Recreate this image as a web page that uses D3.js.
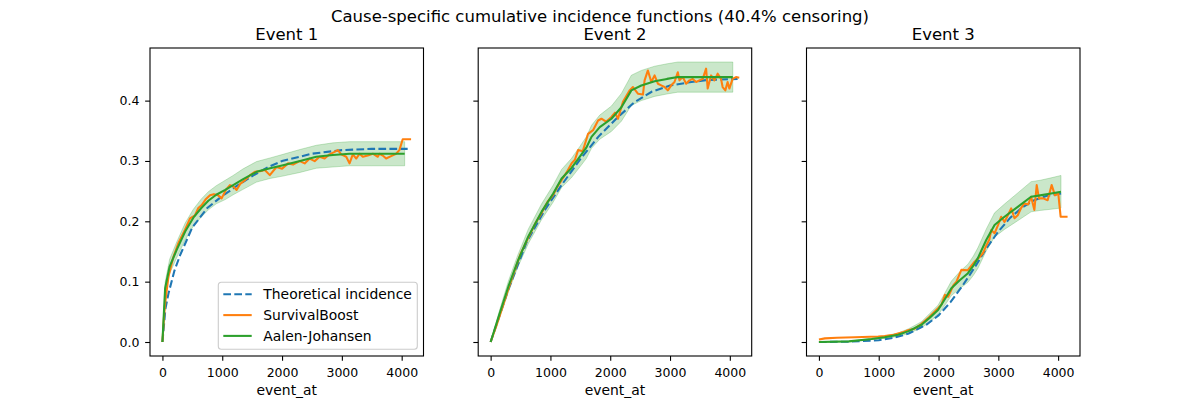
<!DOCTYPE html>
<html>
<head>
<meta charset="utf-8">
<script src="https://cdn.jsdelivr.net/npm/d3@7"></script>
<style>
  body { margin: 0; background: #fff; }
  svg text { font-family: "DejaVu Sans", sans-serif; fill: #000; }
  .tick text { font-size: 12.5px; }
  .tick line { stroke: #000; stroke-width: 1.1; }
  .frame { fill: none; stroke: #000; stroke-width: 1.1; }
  .panel-title { font-size: 16.5px; }
  .axis-label { font-size: 13.9px; }
  .legend-label { font-size: 13.9px; }
</style>
</head>
<body>
<div id="chart"></div>
<script>
// ---- Event 1 ----
const theoT1 = [0, 50, 100, 200, 300, 500, 750, 1000, 1250, 1500, 1750, 2000, 2500, 3000, 3500, 4100];
const theoV1 = [0, 0.055, 0.08, 0.118, 0.145, 0.19, 0.222, 0.242, 0.259, 0.275, 0.289, 0.300, 0.312, 0.318, 0.32, 0.32];

const ajT1  = [0, 45, 120, 240, 380, 517, 650, 767, 900, 1050, 1183, 1350, 1573, 1800, 2017, 2300, 2573, 2850, 3128, 3500, 4050];
const ajV1  = [0, 0.089, 0.125, 0.153, 0.183, 0.206, 0.222, 0.234, 0.244, 0.252, 0.26, 0.27, 0.282, 0.288, 0.293, 0.30, 0.307, 0.31, 0.312, 0.312, 0.312];
const ajLo1 = [0, 0.079, 0.113, 0.14, 0.169, 0.192, 0.207, 0.219, 0.229, 0.236, 0.244, 0.253, 0.265, 0.271, 0.275, 0.281, 0.288, 0.29, 0.292, 0.292, 0.292];
const ajHi1 = [0, 0.099, 0.137, 0.166, 0.197, 0.22, 0.237, 0.249, 0.259, 0.268, 0.276, 0.287, 0.299, 0.305, 0.311, 0.319, 0.326, 0.33, 0.332, 0.332, 0.332];

const sbT1 = [0, 25, 45, 100, 180, 267, 378, 462, 545, 600, 657, 720, 795, 860, 933, 990, 1060, 1128, 1180, 1240, 1300, 1378, 1460, 1545, 1630, 1712, 1795, 1907, 2000, 2100, 2183, 2295, 2378, 2462, 2545, 2628, 2712, 2795, 2878, 2933, 2990, 3073, 3128, 3183, 3240, 3295, 3350, 3433, 3517, 3600, 3628, 3683, 3740, 3823, 3907, 3962, 4017, 4157];
const sbV1 = [0, 0.04, 0.064, 0.108, 0.14, 0.164, 0.186, 0.205, 0.21, 0.222, 0.227, 0.236, 0.243, 0.245, 0.243, 0.238, 0.252, 0.26, 0.258, 0.252, 0.262, 0.268, 0.276, 0.282, 0.283, 0.285, 0.2765, 0.29, 0.287, 0.296, 0.294, 0.2997, 0.296, 0.304, 0.2997, 0.307, 0.304, 0.311, 0.315, 0.318, 0.311, 0.307, 0.296, 0.311, 0.304, 0.312, 0.307, 0.309, 0.312, 0.307, 0.312, 0.309, 0.304, 0.308, 0.312, 0.318, 0.336, 0.336];

// ---- Event 2 ----
const theoT2 = [0, 300, 600, 900, 1200, 1500, 1800, 2100, 2400, 2700, 3000, 3300, 3600, 4130];
const theoV2 = [0, 0.088, 0.165, 0.218, 0.262, 0.303, 0.34, 0.370, 0.397, 0.415, 0.425, 0.430, 0.434, 0.436];

const ajT2  = [0, 150, 297, 450, 630, 853, 1047, 1187, 1350, 1492, 1600, 1687, 1825, 2020, 2187, 2353, 2520, 2742, 2950, 3130, 4050];
const ajV2  = [0, 0.047, 0.092, 0.133, 0.175, 0.216, 0.246, 0.271, 0.288, 0.307, 0.322, 0.34, 0.356, 0.370, 0.389, 0.417, 0.425, 0.432, 0.436, 0.439, 0.439];
const ajLo2 = [0, 0.041, 0.083, 0.123, 0.163, 0.203, 0.232, 0.256, 0.272, 0.29, 0.304, 0.321, 0.336, 0.349, 0.366, 0.392, 0.4, 0.407, 0.411, 0.414, 0.414];
const ajHi2 = [0, 0.053, 0.101, 0.143, 0.187, 0.229, 0.26, 0.286, 0.304, 0.324, 0.34, 0.359, 0.376, 0.391, 0.412, 0.442, 0.45, 0.457, 0.461, 0.464, 0.464];

const sbT2 = [0, 100, 200, 300, 400, 500, 630, 750, 853, 950, 1047, 1120, 1187, 1270, 1353, 1410, 1463, 1540, 1630, 1713, 1797, 1853, 1930, 2020, 2080, 2130, 2213, 2325, 2380, 2463, 2547, 2575, 2630, 2687, 2742, 2797, 2853, 2908, 2963, 3020, 3075, 3130, 3158, 3213, 3270, 3325, 3380, 3437, 3492, 3547, 3603, 3630, 3687, 3742, 3797, 3853, 3880, 3925, 3963, 3992, 4047, 4103, 4158];
const sbV2 = [0, 0.028, 0.058, 0.089, 0.118, 0.146, 0.173, 0.197, 0.214, 0.232, 0.244, 0.258, 0.268, 0.281, 0.296, 0.302, 0.318, 0.316, 0.345, 0.351, 0.367, 0.37, 0.365, 0.373, 0.38, 0.37, 0.398, 0.417, 0.4225, 0.4115, 0.41, 0.4336, 0.45, 0.4308, 0.4418, 0.428, 0.4253, 0.4225, 0.417, 0.4253, 0.4308, 0.447, 0.4336, 0.439, 0.428, 0.4336, 0.436, 0.4308, 0.4336, 0.436, 0.453, 0.42, 0.4418, 0.4336, 0.4446, 0.436, 0.4225, 0.417, 0.4308, 0.42, 0.436, 0.439, 0.438];

// ---- Event 3 ----
const theoT3 = [0, 500, 1000, 1250, 1500, 1800, 2000, 2200, 2400, 2600, 2800, 3000, 3200, 3400, 3600, 3800, 4050];
const theoV3 = [0, 0.0005, 0.003, 0.007, 0.014, 0.029, 0.044, 0.066, 0.093, 0.123, 0.155, 0.183, 0.206, 0.223, 0.235, 0.242, 0.246];

const ajT3  = [0, 500, 880, 1100, 1325, 1500, 1715, 1850, 1992, 2100, 2215, 2350, 2492, 2580, 2658, 2798, 2937, 3103, 3325, 3548, 3700, 3882, 4048];
const ajV3  = [0, 0.001, 0.005, 0.008, 0.012, 0.018, 0.0286, 0.04, 0.053, 0.07, 0.089, 0.102, 0.114, 0.126, 0.139, 0.169, 0.194, 0.2076, 0.224, 0.2407, 0.243, 0.246, 0.249];
const ajLo3 = [0, 0.001, 0.004, 0.006, 0.009, 0.014, 0.0236, 0.033, 0.045, 0.06, 0.077, 0.088, 0.099, 0.11, 0.122, 0.151, 0.174, 0.1866, 0.201, 0.2157, 0.218, 0.22, 0.222];
const ajHi3 = [0, 0.001, 0.006, 0.010, 0.015, 0.022, 0.0336, 0.047, 0.061, 0.08, 0.101, 0.116, 0.129, 0.142, 0.156, 0.187, 0.214, 0.2286, 0.247, 0.2657, 0.268, 0.272, 0.276];

const sbT3 = [0, 100, 300, 600, 992, 1100, 1250, 1400, 1500, 1600, 1715, 1850, 1992, 2050, 2107, 2160, 2250, 2300, 2382, 2490, 2603, 2680, 2742, 2800, 2850, 2882, 2937, 3000, 3048, 3103, 3160, 3215, 3270, 3325, 3380, 3437, 3500, 3548, 3603, 3642, 3680, 3750, 3825, 3892, 3948, 4003, 4042, 4158];
const sbV3 = [0.004, 0.006, 0.007, 0.008, 0.009, 0.01, 0.012, 0.016, 0.02, 0.022, 0.03, 0.042, 0.056, 0.062, 0.078, 0.075, 0.094, 0.1, 0.1195, 0.119, 0.133, 0.14, 0.147, 0.16, 0.17, 0.1856, 0.18, 0.195, 0.2076, 0.199, 0.21, 0.2215, 0.205, 0.21, 0.222, 0.2297, 0.228, 0.2407, 0.2187, 0.26, 0.238, 0.238, 0.235, 0.26, 0.243, 0.246, 0.2076, 0.2076];

const eventTitles = ['Event 1', 'Event 2', 'Event 3'];
const xTicks = [0, 1000, 2000, 3000, 4000];
const yTicks = [0, 0.1, 0.2, 0.3, 0.4];
const legendLabels = ['Theoretical incidence', 'SurvivalBoost', 'Aalen-Johansen'];

const zip = (ts, vs) => ts.map((t, i) => ({t: t, v: vs[i]}));

const events = [
  {theo: zip(theoT1, theoV1), sb: zip(sbT1, sbV1), aj: ajT1.map((t, i) => ({t: t, v: ajV1[i], lo: ajLo1[i], hi: ajHi1[i]}))},
  {theo: zip(theoT2, theoV2), sb: zip(sbT2, sbV2), aj: ajT2.map((t, i) => ({t: t, v: ajV2[i], lo: ajLo2[i], hi: ajHi2[i]}))},
  {theo: zip(theoT3, theoV3), sb: zip(sbT3, sbV3), aj: ajT3.map((t, i) => ({t: t, v: ajV3[i], lo: ajLo3[i], hi: ajHi3[i]}))}
];

const colors = {theo: '#1f77b4', sb: '#ff7f0e', aj: '#2ca02c'};

class IncidencePanel {
  constructor(_config, _data) {
    this.config = {
      svg: _config.svg,
      left: _config.left,
      top: _config.top || 48,
      width: _config.width || 273.5,
      height: _config.height || 308,
      title: _config.title,
      yDomain: _config.yDomain,
      showYLabels: _config.showYLabels,
      showLegend: _config.showLegend,
      tickSize: 4.86
    }
    this.data = _data;
    this.initVis();
  }

  initVis() {
    let vis = this;

    vis.g = vis.config.svg.append('g')
        .attr('transform', `translate(${vis.config.left},${vis.config.top})`);

    // matplotlib style 5% margins on x
    const tMax = d3.max([].concat(vis.data.theo, vis.data.sb, vis.data.aj), d => d.t);
    const pad = tMax * 0.05;
    vis.x = d3.scaleLinear().domain([-pad, tMax + pad]).range([0, vis.config.width]);
    vis.y = d3.scaleLinear().domain(vis.config.yDomain).range([vis.config.height, 0]);

    vis.xAxisG = vis.g.append('g')
        .attr('transform', `translate(0,${vis.config.height})`);
    vis.yAxisG = vis.g.append('g');

    vis.g.append('text')
        .attr('class', 'panel-title')
        .attr('x', vis.config.width / 2)
        .attr('y', -8)
        .attr('text-anchor', 'middle')
        .text(vis.config.title);

    vis.g.append('text')
        .attr('class', 'axis-label')
        .attr('x', vis.config.width / 2)
        .attr('y', vis.config.height + 39)
        .attr('text-anchor', 'middle')
        .text('event_at');

    vis.updateVis();
  }

  updateVis() {
    let vis = this;

    const area = d3.area()
        .x(d => vis.x(d.t))
        .y0(d => vis.y(d.lo))
        .y1(d => vis.y(d.hi));
    const line = d3.line()
        .x(d => vis.x(d.t))
        .y(d => vis.y(d.v));

    vis.g.append('path')
        .datum(vis.data.aj)
        .attr('d', area)
        .attr('fill', colors.aj)
        .attr('fill-opacity', 0.25)
        .attr('stroke', colors.aj)
        .attr('stroke-opacity', 0.25)
        .attr('stroke-width', 1);

    vis.g.append('path')
        .datum(vis.data.theo)
        .attr('d', line)
        .attr('fill', 'none')
        .attr('stroke', colors.theo)
        .attr('stroke-width', 2.08)
        .attr('stroke-dasharray', '7.7,3.3');

    vis.g.append('path')
        .datum(vis.data.sb)
        .attr('d', line)
        .attr('fill', 'none')
        .attr('stroke', colors.sb)
        .attr('stroke-width', 2.08)
        .attr('stroke-linejoin', 'round');

    vis.g.append('path')
        .datum(vis.data.aj)
        .attr('d', line)
        .attr('fill', 'none')
        .attr('stroke', colors.aj)
        .attr('stroke-width', 2.08)
        .attr('stroke-linejoin', 'round');

    vis.g.append('rect')
        .attr('class', 'frame')
        .attr('width', vis.config.width)
        .attr('height', vis.config.height);

    vis.xAxisG.call(d3.axisBottom(vis.x)
        .tickValues(xTicks)
        .tickSize(vis.config.tickSize)
        .tickPadding(6.8)
        .tickFormat(d3.format('d')));
    vis.yAxisG.call(d3.axisLeft(vis.y)
        .tickValues(yTicks)
        .tickSize(vis.config.tickSize)
        .tickPadding(5.8)
        .tickFormat(vis.config.showYLabels ? d3.format('.1f') : ''));
    vis.g.selectAll('.domain').remove();

    if (vis.config.showLegend) vis.renderLegend();
  }

  renderLegend() {
    let vis = this;
    const lg = vis.g.append('g')
        .attr('class', 'legend')
        .attr('transform', `translate(${68.3},${234.3})`);

    lg.append('rect')
        .attr('width', 199)
        .attr('height', 67)
        .attr('rx', 3)
        .attr('fill', '#fff')
        .attr('fill-opacity', 0.8)
        .attr('stroke', '#cccccc')
        .attr('stroke-width', 1.1);

    const keys = ['theo', 'sb', 'aj'];
    const rows = lg.selectAll('.legend-row')
        .data(legendLabels)
      .join('g')
        .attr('class', 'legend-row')
        .attr('transform', (d, i) => `translate(0,${12 + i * 20.8})`);

    rows.append('line')
        .attr('x1', 5)
        .attr('x2', 33.4)
        .attr('stroke', (d, i) => colors[keys[i]])
        .attr('stroke-width', 2.08)
        .attr('stroke-dasharray', (d, i) => i === 0 ? '7.7,3.3' : null);

    rows.append('text')
        .attr('class', 'legend-label')
        .attr('x', 45)
        .attr('dy', '0.35em')
        .text(d => d);
  }
}

const svg = d3.select('#chart').append('svg')
    .attr('width', 1200)
    .attr('height', 400);

svg.append('text')
    .attr('class', 'panel-title')
    .attr('x', 600)
    .attr('y', 21.7)
    .attr('text-anchor', 'middle')
    .text('Cause-specific cumulative incidence functions (40.4% censoring)');

// shared y axis with 5% margins
const yMax = d3.max(events, e => Math.max(d3.max(e.aj, d => d.hi), d3.max(e.sb, d => d.v), d3.max(e.theo, d => d.v)));
const yPad = yMax * 0.05;
const yDomain = [-yPad, yMax + yPad];

const panelLefts = [150, 478.2, 806.5];
events.forEach((ev, i) => {
  new IncidencePanel({
    svg: svg,
    left: panelLefts[i],
    title: eventTitles[i],
    yDomain: yDomain,
    showYLabels: i === 0,
    showLegend: i === 0
  }, ev);
});
</script>
</body>
</html>
